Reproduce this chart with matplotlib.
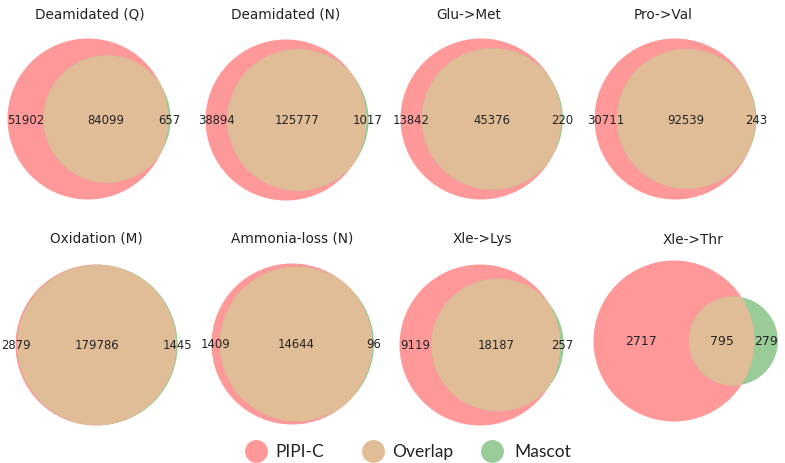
import numpy as np
import matplotlib
matplotlib.use('Agg')
import matplotlib.pyplot as plt
from matplotlib.patches import Circle
from matplotlib.lines import Line2D

# ============================================
# Data
# ============================================
titles = ["Deamidated (Q)", "Deamidated (N)", "Glu->Met", "Pro->Val",
          "Oxidation (M)", "Ammonia-loss (N)", "Xle->Lys", "Xle->Thr"]
pipi_only = [51902, 38894, 13842, 30711, 2879, 1409, 9119, 2717]
overlap = [84099, 125777, 45376, 92539, 179786, 14644, 18187, 795]
mascot_only = [657, 1017, 220, 243, 1445, 96, 257, 279]

legend_labels = ["PIPI-C", "Overlap", "Mascot"]
colors = ["#ff9999", "#e0bd97", "#99cc99"]

# ============================================
# Layout (pixels)
# ============================================
W, H = 785, 464
red_cx = [88, 286, 481, 675, 96, 292, 480, 674]
red_cy = [120, 121, 120, 120, 346, 345, 346, 342]
title_x = [90, 286, 469, 663, 96, 292, 482, 693]
title_y = [15, 15, 15, 15, 239, 239, 239, 240]
num_size = [8.4, 8.4, 8.4, 8.4, 8.4, 8.4, 8.4, 9]
leg_circle_x = [256, 373, 492]
leg_text_x = [275, 392, 514]
R_PX = 80.5


# ============================================
# Circle geometry
# ============================================
def lens_area(r1, r2, d):
    if d >= r1 + r2:
        return 0.0
    if d <= abs(r1 - r2):
        return np.pi * min(r1, r2) ** 2
    a1 = r1 ** 2 * np.arccos((d ** 2 + r1 ** 2 - r2 ** 2) / (2 * d * r1))
    a2 = r2 ** 2 * np.arccos((d ** 2 + r2 ** 2 - r1 ** 2) / (2 * d * r2))
    k = 0.5 * np.sqrt((-d + r1 + r2) * (d + r1 - r2) * (d - r1 + r2) * (d + r1 + r2))
    return a1 + a2 - k


def solve_distance(r1, r2, target):
    lo, hi = abs(r1 - r2), r1 + r2
    for _ in range(100):
        mid = (lo + hi) / 2
        if lens_area(r1, r2, mid) > target:
            lo = mid
        else:
            hi = mid
    return (lo + hi) / 2


fig = plt.figure(figsize=(W / 100, H / 100), dpi=100)

for i in range(len(titles)):
    a = pipi_only[i] + overlap[i]
    b = mascot_only[i] + overlap[i]
    ra = 1.0
    rb = np.sqrt(b / a)
    d = solve_distance(ra, rb, np.pi * overlap[i] / a)

    s = R_PX
    aw, ah = 200, 200
    ax = fig.add_axes([(red_cx[i] - aw / 2) / W, 1 - (red_cy[i] + ah / 2) / H, aw / W, ah / H])
    ax.set_xlim(-aw / 2 / s, aw / 2 / s)
    ax.set_ylim(-ah / 2 / s, ah / 2 / s)
    ax.set_axis_off()

    ca = Circle((0, 0), ra, facecolor=colors[0], edgecolor='none', clip_on=False)
    cb = Circle((d, 0), rb, facecolor=colors[2], edgecolor='none', clip_on=False)
    ax.add_patch(ca)
    ax.add_patch(cb)
    co = Circle((d, 0), rb, facecolor=colors[1], edgecolor='none')
    ax.add_patch(co)
    co.set_clip_path(ca)

    # label positions like matplotlib_venn
    xa = (-ra + (d - rb)) / 2
    xo = (d - rb + ra) / 2
    xb = (ra + d + rb) / 2
    for x, v in zip([xa, xo, xb], [pipi_only[i], overlap[i], mascot_only[i]]):
        ax.text(x, 0, str(v), ha='center', va='center', fontsize=num_size[i], color='#222222')

    fig.text(title_x[i] / W, 1 - title_y[i] / H, titles[i], ha='center', va='center',
             fontsize=9.8, color='#222222')

# legend
for cx, tx, c, lab in zip(leg_circle_x, leg_text_x, colors, legend_labels):
    fig.add_artist(Line2D([cx / W], [1 - 452 / H], marker='o', linestyle='none', markersize=16.5,
                          markerfacecolor=c, markeredgecolor='none', transform=fig.transFigure))
    fig.text(tx / W, 1 - 452 / H, lab, ha='left', va='center', family='Lato', fontsize=12.5,
             color='#222222')

fig.savefig("out.png", dpi=100)
